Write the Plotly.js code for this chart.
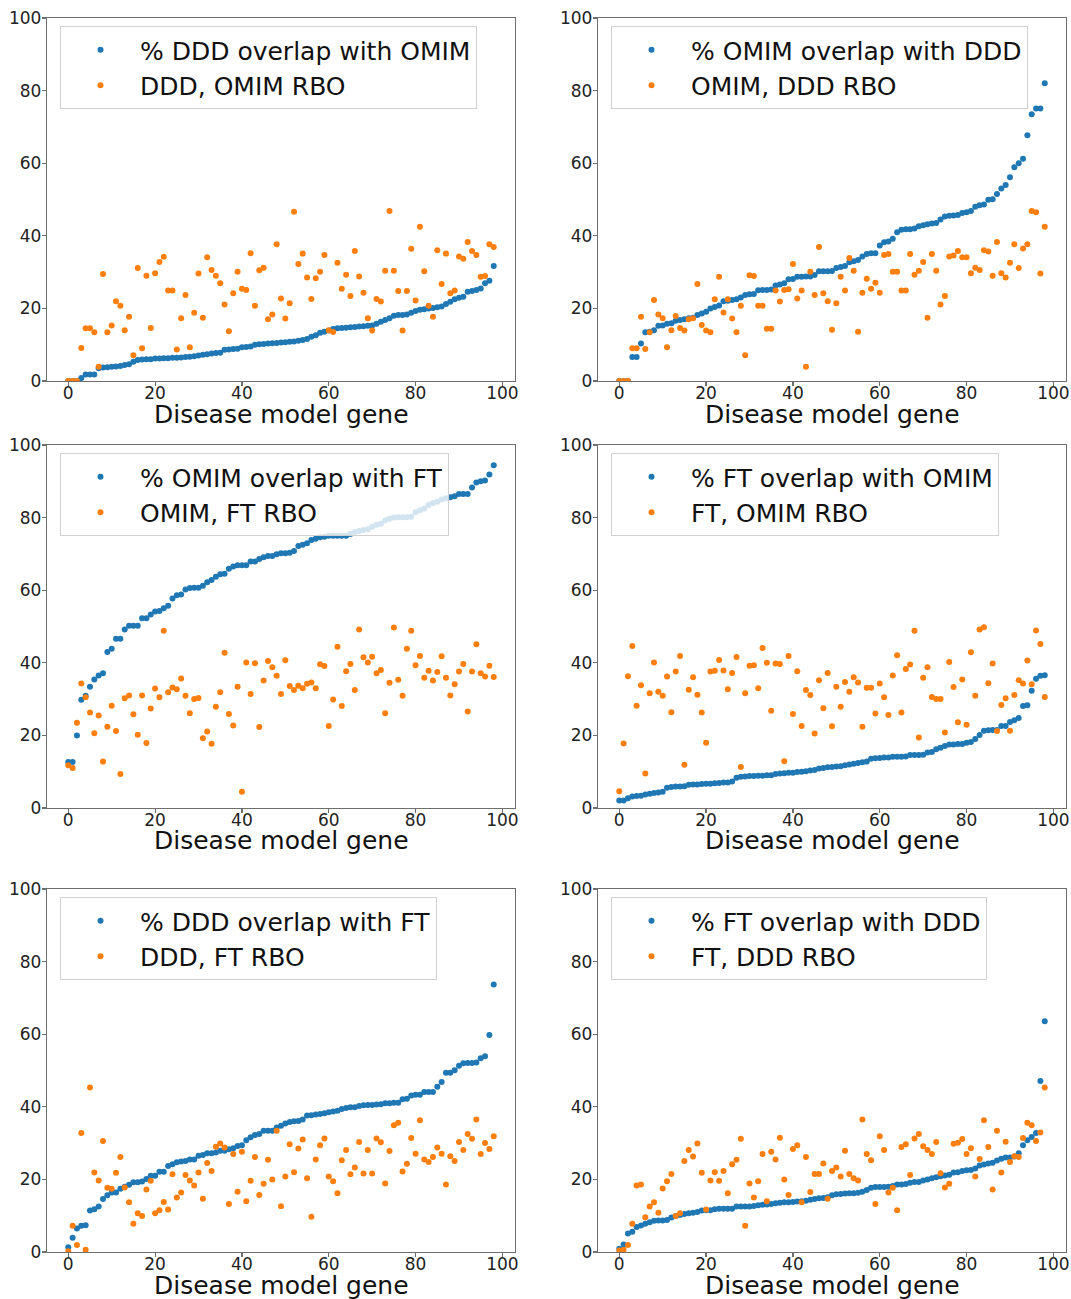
<!DOCTYPE html>
<html>
<head>
<meta charset="utf-8">
<script src="https://cdn.plot.ly/plotly-3.0.1.min.js"></script>
<style>html,body{margin:0;padding:0;background:#fff;}#chart{width:1071px;height:1299px;}</style>
</head>
<body>
<div id="chart"></div>
<script>
// Disease model gene rank (x)
const geneRank = [0,1,2,3,4,5,6,7,8,9,10,11,12,13,14,15,16,17,18,19,20,21,22,23,24,25,26,27,28,29,30,31,32,33,34,35,36,37,38,39,40,41,42,43,44,45,46,47,48,49,50,51,52,53,54,55,56,57,58,59,60,61,62,63,64,65,66,67,68,69,70,71,72,73,74,75,76,77,78,79,80,81,82,83,84,85,86,87,88,89,90,91,92,93,94,95,96,97,98];

// Panel 1: DDD vs OMIM
const dddOmimPct = [0,0,0,0.8,1.8,1.8,1.8,3.5,3.7,3.8,3.9,4.0,4.1,4.4,4.6,5.3,5.8,5.9,6.0,6.0,
  6.2,6.2,6.3,6.3,6.4,6.4,6.5,6.6,6.7,6.8,7.0,7.2,7.4,7.6,7.7,7.8,8.6,8.7,8.8,8.9,
  9.3,9.4,9.5,10.0,10.1,10.2,10.3,10.4,10.5,10.6,10.7,10.8,10.9,11.1,11.3,11.6,12.2,12.6,13.3,13.6,
  13.9,14.3,14.5,14.6,14.7,14.8,14.9,15.0,15.1,15.2,15.3,15.8,16.3,16.8,17.3,18.0,18.2,18.2,18.3,18.8,
  19.3,19.6,19.8,20.0,20.1,20.3,20.5,21.2,21.8,22.5,22.9,23.2,24.6,24.8,25.1,25.5,26.9,27.6,31.7];
const dddOmimRbo = [0,0,0,9.1,14.5,14.5,13.4,3.9,29.5,13.4,
  15.3,22,20.7,14,17.7,7.1,31.1,9,29,14.6,
  29.7,32.8,34.2,24.9,24.9,8.7,17.3,23.7,9.3,18.8,
  29.6,17.4,34.1,30.6,29,26.9,21.1,13.7,24.2,30.1,
  25.4,25.1,35.2,20.7,30.5,31.2,17,18.3,37.7,22.7,
  17.2,21.4,46.6,32.2,35.1,28.5,22.6,28.3,30.1,34.7,
  14,13.5,32.6,25.4,29.3,23.4,35.8,28.8,24.3,17.3,
  13.9,22.6,21.9,30.4,46.8,30.4,24.8,13.9,24.8,36.4,
  22.2,42.5,30.2,20.7,17.7,36,26.7,35.1,24.2,24.9,
  34.3,33.7,38.3,35.8,34.7,28.7,28.9,37.7,36.9];

// Panel 2: OMIM vs DDD
const omimDddPct = [0,0,0,6.6,6.6,10.3,13.4,13.6,14.0,15.2,15.3,15.8,15.9,16.6,16.8,17.0,17.3,17.4,18.2,18.6,
  19.1,20.0,20.4,20.8,22.0,22.1,22.3,22.5,23.0,23.7,23.9,24.0,25.0,25.1,25.1,25.2,26.3,26.6,26.9,28.0,
  28.1,28.7,28.7,28.8,28.8,29.2,30.2,30.2,30.2,30.3,31.1,31.4,31.7,32.7,33.0,33.3,34.3,35.0,35.2,35.2,
  37.3,38.2,38.4,39.2,41.0,41.7,41.8,41.8,42.0,42.6,42.9,43.2,43.4,43.5,44.5,45.3,45.5,45.6,45.7,46.3,
  46.5,46.8,48.0,48.4,48.6,49.9,50.1,51.5,53.0,54.0,56.1,58.9,60.0,61.2,67.7,73.5,75.1,75.1,82.0];
const omimDddRbo = [0,0,0,9.0,9.0,17.7,8.8,13.4,22.3,18.3,
  17.3,9.3,14.0,17.9,14.6,13.9,17.0,17.3,26.7,15.4,
  13.9,13.4,22.5,28.7,18.9,22.5,17.2,13.4,20.7,7.1,
  29.1,28.9,20.7,20.7,14.4,14.4,24.9,21.9,25.1,25.3,
  32.2,22.7,24.9,3.9,30.1,23.7,36.9,24.2,22.0,14.1,
  21.4,28.7,24.9,33.9,30.4,13.6,24.3,28.2,25.4,27.1,
  24.3,34.7,35.0,30.1,30.1,24.9,24.9,35.0,29.3,30.4,
  32.8,17.4,35.0,30.4,21.1,23.4,34.3,34.6,35.8,34.1,
  34.1,29.7,31.2,30.6,36.0,35.7,29.0,38.3,29.7,28.5,
  32.6,37.7,31.1,36.5,37.7,46.8,46.5,29.6,42.5];

// Panel 3: OMIM vs FT
const omimFtPct = [12.7,12.7,20.0,29.8,30.9,33.4,35.4,36.5,37.1,43.0,
  43.9,46.6,46.6,49.2,50.2,50.2,50.2,52.3,52.3,53.3,
  54.1,54.3,55.0,55.7,57.7,58.6,58.8,60.2,60.6,60.7,
  60.7,61.2,62.2,62.8,63.7,64.4,64.5,65.9,66.5,66.9,
  66.9,66.9,67.9,67.9,68.6,69.1,69.4,69.4,69.9,70.2,
  70.2,70.3,70.8,72.2,72.5,72.9,73.8,74.2,74.6,74.7,
  75.0,75.0,75.0,75.0,75.0,75.5,76.0,76.3,76.6,76.8,
  77.5,78.0,78.3,79.3,79.7,80.0,80.1,80.1,80.1,80.2,
  81.5,82.0,82.5,83.5,84.0,84.4,85.0,85.3,85.6,85.9,
  86.5,86.5,86.5,88.3,89.7,90.0,90.2,91.9,94.4];
const omimFtRbo = [11.8,11.0,23.5,34.3,30.5,26.3,20.6,25.5,12.8,22.4,
  28.2,21.2,9.4,30.2,31.0,25.8,20.2,31.0,17.9,27.4,
  32.9,30.5,48.8,31.9,33.2,32.7,35.7,30.9,26.1,30.0,
  30.3,19.2,21.1,17.7,27.9,31.9,42.8,25.9,22.7,33.4,
  4.5,40.1,31.4,39.9,22.3,35.1,40.5,38.8,36.4,31.4,
  40.7,33.6,32.5,33.7,33.0,34.2,34.6,33.0,39.6,39.1,
  22.6,29.9,44.4,28.1,37.7,39.7,32.5,49.2,41.5,40.1,
  41.7,37.1,38.0,26.1,34.5,49.7,35.3,30.9,43.9,48.8,
  39.3,41.9,35.9,37.8,35.1,37.5,41.8,35.9,31.0,34.1,
  37.6,39.7,26.6,37.6,45.1,37.1,36.2,39.2,36.1];

// Panel 4: FT vs OMIM
const ftOmimPct = [2.1,2.1,2.7,3.2,3.3,3.4,3.7,3.9,4.1,4.3,
  4.5,5.6,5.8,5.9,5.9,6.0,6.4,6.5,6.5,6.6,
  6.7,6.7,6.8,6.9,7.0,7.0,7.3,8.3,8.6,8.7,
  8.8,8.8,8.9,8.9,9.0,9.0,9.4,9.5,9.6,9.7,
  9.7,9.9,10.0,10.1,10.3,10.5,10.9,11.0,11.2,11.3,
  11.4,11.5,11.8,12.0,12.2,12.4,12.6,12.8,13.6,13.7,
  13.8,13.9,13.9,14.1,14.1,14.1,14.2,14.6,14.6,14.6,
  14.7,15.3,15.4,16.2,16.6,17.1,17.5,17.5,17.6,17.6,
  18.0,18.2,19.0,20.1,21.3,21.4,21.5,21.5,22.6,22.6,
  23.7,24.2,24.8,28.1,28.3,32.3,35.6,36.4,36.6];
const ftOmimRbo = [4.6,17.8,36.3,44.6,28.2,33.8,9.5,31.6,40.1,32.0,
  30.9,36.2,26.4,37.6,41.9,11.9,32.6,36.0,31.2,26.3,
  18.0,37.6,37.8,40.8,37.9,32.7,37.2,41.6,11.3,31.6,
  39.2,39.3,33.0,44.1,40.0,26.8,39.8,39.7,12.9,41.9,
  25.9,37.7,22.6,32.5,31.1,20.5,35.2,27.5,37.2,22.5,
  33.4,27.9,34.7,32.0,36.0,34.6,22.4,33.1,33.1,26.0,
  34.3,30.5,25.6,36.5,42.1,26.3,38.3,39.5,48.8,19.4,
  35.9,38.8,30.6,30.0,30.0,20.8,40.2,33.3,23.6,35.4,
  22.9,42.9,30.9,49.2,49.8,34.4,39.8,21.2,28.4,30.2,
  21.3,31.1,35.2,34.3,40.6,34.1,48.9,45.2,30.6];

// Panel 5: DDD vs FT
const dddFtPct = [1.3,3.9,6.5,7.2,7.4,11.4,11.8,12.5,14.6,15.6,
  16.4,16.4,17.4,18.0,18.5,19.2,19.2,19.4,20.1,21.0,
  21.0,22.1,22.1,23.7,24.2,24.7,24.9,25.1,25.5,25.5,
  26.5,26.7,27.2,27.2,27.4,27.9,27.9,28.3,28.6,29.2,
  29.4,30.8,31.6,32.2,32.5,33.4,33.4,33.4,34.3,34.8,
  35.4,35.8,36.0,36.1,36.5,37.6,37.7,37.9,38.0,38.2,
  38.5,38.7,38.9,39.4,39.7,39.9,39.9,40.2,40.4,40.5,
  40.5,40.6,40.7,41.0,41.0,41.1,41.1,42.1,42.2,43.1,
  43.3,43.3,44.1,44.1,44.1,45.5,46.8,49.4,49.4,50.1,
  51.3,52.0,52.1,52.1,52.2,53.4,53.9,59.8,73.7];
const dddFtRbo = [0.2,7.2,1.9,32.8,0.6,45.3,21.9,19.7,30.6,17.7,
  17.4,21.8,26.2,17.8,13.7,7.8,10.7,9.9,17.2,19.6,
  10.7,11.5,13.8,11.7,21.4,15.0,16.4,21.2,19.7,18.3,
  21.9,14.7,24.5,22.3,29.0,29.9,28.8,13.2,27.0,16.6,
  27.6,14.0,19.6,26.2,15.7,18.8,25.4,20.0,33.4,12.6,
  20.8,29.7,22.0,28.5,31.0,20.3,9.7,25.5,29.4,31.3,
  20.8,19.5,16.2,25.3,28.1,21.4,23.3,30.3,21.6,28.1,
  21.6,31.3,30.2,18.9,27.8,34.9,35.6,22.2,24.3,31.4,
  27.1,36.3,25.5,24.8,26.2,28.8,27.1,18.6,26.4,25.1,
  30.3,28.1,32.5,31.2,36.5,27.0,30.0,28.4,31.9];

// Panel 6: FT vs DDD
const ftDddPct = [0.9,2.1,5.1,5.6,6.9,7.3,7.8,8.2,8.6,8.7,
  8.7,8.8,9.5,9.9,10.2,10.5,10.7,10.8,11.0,11.4,
  11.5,11.5,11.8,11.9,11.9,11.9,11.9,12.5,12.5,12.5,
  12.5,12.7,12.9,13.0,13.1,13.2,13.4,13.6,13.7,13.7,
  13.8,13.9,14.0,14.1,14.4,14.6,14.8,14.9,15.1,15.6,
  15.9,16.0,16.1,16.2,16.2,16.3,16.6,17.1,17.7,17.9,
  17.9,17.9,18.0,18.2,18.6,18.6,18.7,19.1,19.3,19.3,
  19.7,20.0,20.3,20.6,20.9,21.1,21.3,21.9,22.0,22.3,
  22.5,22.6,23.0,23.8,24.1,24.4,24.6,25.2,25.7,26.0,
  26.0,26.3,27.2,29.4,30.8,31.7,32.8,47.1,63.6];
const ftDddRbo = [0.4,0.6,1.9,7.8,18.3,18.6,9.6,12.5,13.7,10.8,
  17.5,19.5,21.5,9.9,10.7,25.1,28.1,26.3,29.9,21.8,
  11.7,19.7,22.0,19.6,22.3,16.2,24.2,25.4,31.2,7.2,
  18.9,15.0,19.5,27.0,14.0,27.6,25.5,31.5,20.0,15.7,
  28.4,29.4,13.7,26.2,16.5,21.5,21.5,24.4,14.7,22.3,
  23.3,20.8,27.9,21.5,20.3,19.7,36.5,27.0,25.3,13.2,
  31.9,28.1,16.4,17.7,11.5,28.9,29.7,21.2,31.3,32.5,
  29.1,28.1,27.0,30.3,21.7,17.8,18.8,29.8,30.1,31.1,
  27.0,28.6,20.8,25.6,36.3,28.9,17.2,33.4,21.9,30.4,
  24.8,26.4,26.2,31.4,35.6,34.9,30.6,32.9,45.3];

const pctLabels = ['% DDD overlap with OMIM','% OMIM overlap with DDD','% OMIM overlap with FT',
                   '% FT overlap with OMIM','% DDD overlap with FT','% FT overlap with DDD'];
const rboLabels = ['DDD, OMIM RBO','OMIM, DDD RBO','OMIM, FT RBO','FT, OMIM RBO','DDD, FT RBO','FT, DDD RBO'];
const pctSeries = [dddOmimPct, omimDddPct, omimFtPct, ftOmimPct, dddFtPct, ftDddPct];
const rboSeries = [dddOmimRbo, omimDddRbo, omimFtRbo, ftOmimRbo, dddFtRbo, ftDddRbo];
const xTickVals = [0,20,40,60,80,100];
const yTickVals = [0,20,40,60,80,100];
const xTitle = 'Disease model gene';

const W = 1071, H = 1299, MB = 20;
const PH = H - MB;
const colPx = [[47,515],[598,1066]];
const rowPx = [[18,381],[445,808],[889,1252]];
const BLUE = '#1f77b4', ORANGE = '#ff7f0e';
const FONT = 'DejaVu Sans, sans-serif';
const yf = (Y) => (PH - Y)/PH;

const traces = [];
const annotations = [];
const layout = {
  width: W, height: H, autosize: false,
  margin: {l:0, r:0, t:0, b:MB, pad:0},
  paper_bgcolor: '#fff', plot_bgcolor: '#fff',
  font: {family: FONT, color: '#000'},
  showlegend: true
};

for (let p = 0; p < 6; p++) {
  const r = Math.floor(p/2), c = p % 2;
  const sfx = p === 0 ? '' : String(p+1);
  const legName = 'legend' + sfx;
  traces.push({
    type:'scatter', mode:'markers', x: geneRank, y: pctSeries[p],
    xaxis:'x'+sfx, yaxis:'y'+sfx, name: pctLabels[p], legend: legName,
    marker:{color: BLUE, size: 6}, cliponaxis: true, hoverinfo:'skip'
  });
  traces.push({
    type:'scatter', mode:'markers', x: geneRank, y: rboSeries[p],
    xaxis:'x'+sfx, yaxis:'y'+sfx, name: rboLabels[p], legend: legName,
    marker:{color: ORANGE, size: 6}, cliponaxis: true, hoverinfo:'skip'
  });
  const axCommon = {
    showline:true, mirror:true, linecolor:'#6e6e6e', linewidth:1.2,
    ticks:'outside', ticklen:4, tickwidth:1.2, tickcolor:'#6e6e6e',
    showgrid:false, zeroline:false, tickfont:{family:FONT, size:17, color:'#222'}
  };
  layout['xaxis'+sfx] = Object.assign({}, axCommon, {
    domain:[colPx[c][0]/W, colPx[c][1]/W], anchor:'y'+sfx,
    range:[-4.9, 102.9], tickvals: xTickVals, ticktext: xTickVals.map(String),
    ticklabelstandoff: -8
  });
  layout['yaxis'+sfx] = Object.assign({}, axCommon, {
    domain:[yf(rowPx[r][1]), yf(rowPx[r][0])], anchor:'x'+sfx,
    range:[0, 100], tickvals: yTickVals, ticktext: yTickVals.map(String),
    ticklabelstandoff: -3
  });
  annotations.push({
    text: xTitle, xref:'paper', yref:'paper',
    x: (colPx[c][0] + colPx[c][1])/2/W, y: yf(rowPx[r][1] + 33),
    xanchor:'center', yanchor:'middle', showarrow:false,
    font:{family:FONT, size:25, color:'#111'}
  });
  layout[legName] = {
    x: (colPx[c][0] + 13)/W, y: yf(rowPx[r][0] + 8),
    xanchor:'left', yanchor:'top',
    bgcolor:'rgba(255,255,255,0.8)', bordercolor:'#d0d0d0', borderwidth:1,
    font:{family:FONT, size:25, color:'#111'},
    itemwidth: 69, tracegroupgap: 0
  };
}
layout.annotations = annotations;

Plotly.newPlot('chart', traces, layout, {displayModeBar:false, staticPlot:true});
</script>
</body>
</html>
